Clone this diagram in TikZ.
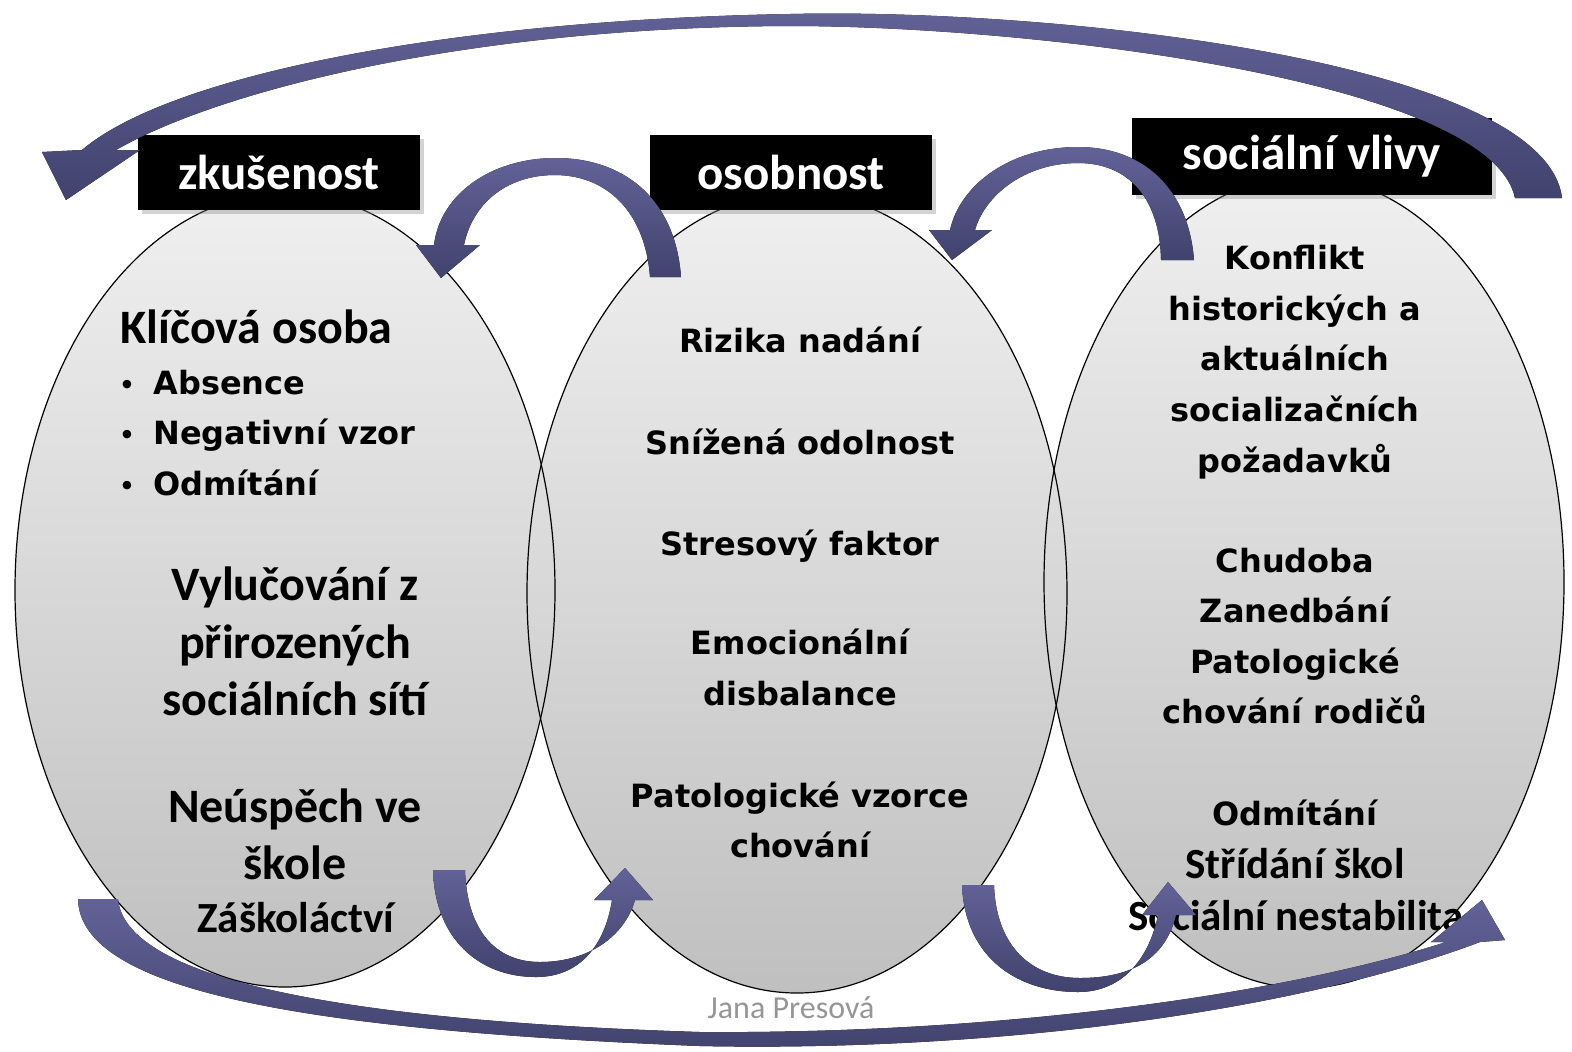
\documentclass[tikz,border=0pt]{standalone}
\usepackage{fontspec}
\usetikzlibrary{shapes.geometric,shadows}
\newfontfamily\tahfont{DejaVu Sans}
\newfontfamily\calfont{Carlito}
\definecolor{arrowtop}{RGB}{98,98,152}
\definecolor{arrowbot}{RGB}{66,66,110}
\definecolor{signgray}{RGB}{150,150,150}
\tikzset{
  blob/.style={ellipse, top color=gray!12, bottom color=gray!50, inner sep=0pt},
  rim/.style={ellipse, draw=black, line width=0.6pt, inner sep=0pt},
  tag/.style={fill=black, text=white, inner sep=0pt,
    font=\calfont\bfseries\fontsize{24.5}{28}\selectfont,
    drop shadow={opacity=0.35, shadow xshift=2pt, shadow yshift=-2pt}},
  body/.style={font=\tahfont\bfseries\fontsize{16}{25}\selectfont, anchor=base, inner sep=0pt},
  big/.style={font=\calfont\bfseries\fontsize{24}{28}\selectfont, anchor=base, inner sep=0pt},
  small/.style={font=\calfont\bfseries\fontsize{21.5}{26}\selectfont, anchor=base, inner sep=0pt},
  curlarrow/.style={top color=arrowtop, bottom color=arrowbot},
}
\begin{document}
\begin{tikzpicture}[x=0.5pt, y=-0.5pt]
  \useasboundingbox (0,0) rectangle (1572,1051);
  % ellipses
  \node[blob, minimum width=270pt, minimum height=397pt] (zk) at (285,590) {};
  \node[blob, minimum width=270pt, minimum height=400pt] (os) at (797,593) {};
  \node[blob, minimum width=260pt, minimum height=406pt] (sv) at (1304,582) {};
  \node[rim, minimum width=270pt, minimum height=397pt] (zkr) at (zk) {};
  \node[rim, minimum width=270pt, minimum height=400pt] (osr) at (os) {};
  \node[rim, minimum width=260pt, minimum height=406pt] (svr) at (sv) {};

  % left ellipse
  \node[big, anchor=base west] (klic) at (120,343) {Klíčová osoba};
  \foreach \t/\y [count=\i] in {Absence/394, Negativní vzor/444, Odmítání/495} {
    \node[body, font=\tahfont\bfseries\fontsize{12}{14}\selectfont] (dot\i) at (127,\y-1) {•};
    \node[body, anchor=base west] (osb\i) at (153,\y) {\t};
  }
  \foreach \t/\y [count=\i] in {Vylučování z/600, přirozených/658, sociálních sítí/715,
      Neúspěch ve/822, škole/879} {
    \node[big] (zkt\i) at (295,\y) {\t};
  }
  \node[small] (zask) at (296,932) {Záškoláctví};

  % middle ellipse
  \foreach \t/\y [count=\i] in {Rizika nadání/352, Snížená odolnost/454, Stresový faktor/555,
      Emocionální/654, disbalance/705, Patologické vzorce/807, chování/857} {
    \node[body] (ost\i) at (800,\y) {\t};
  }

  % right ellipse
  \foreach \t/\y [count=\i] in {Konflikt/269, historických a/320, aktuálních/370,
      socializačních/421, požadavků/472, Chudoba/572, Zanedbání/622, Patologické/673,
      chování rodičů/723, Odmítání/825} {
    \node[body] (svt\i) at (1295,\y) {\t};
  }
  \node[small] (strid) at (1295,878) {Střídání škol};
  \node[small] (nest) at (1296,930) {Sociální nestabilita};

  % labels
  \node[tag, minimum width=141pt, minimum height=37.5pt] (zkl) at (279,172) {zkušenost};
  \node[tag, minimum width=141pt, minimum height=37.5pt] (osl) at (791,172) {osobnost};
  \node[tag, minimum width=180pt, minimum height=38.5pt] (svl) at (1312,156) {sociální vlivy};

  % arrows
  \fill[curlarrow] (1562,198) .. controls (1545,60) and (1050,8) .. (790,14)
    .. controls (450,20) and (170,75) .. (82,150) -- (42,152) -- (66,200) -- (140,150)
    -- (116,150) .. controls (220,90) and (470,27) .. (790,26)
    .. controls (1030,26) and (1490,80) .. (1515,198) -- cycle;
  \fill[curlarrow] (681,277) .. controls (675,195) and (620,158) .. (556,158)
    .. controls (490,158) and (440,195) .. (434,245) -- (416,245) -- (441,278)
    -- (480,245) -- (464,245) .. controls (472,205) and (505,175) .. (555,175)
    .. controls (605,175) and (645,210) .. (650,277) -- cycle;
  \fill[curlarrow] (1194,260) .. controls (1188,185) and (1140,147) .. (1078,147)
    .. controls (1010,147) and (960,185) .. (950,230) -- (929,230) -- (952,260)
    -- (992,230) -- (975,230) .. controls (985,195) and (1025,163) .. (1078,163)
    .. controls (1130,163) and (1160,200) .. (1161,260) -- cycle;
  \fill[curlarrow] (433,870) .. controls (435,940) and (480,977) .. (536,977)
    .. controls (580,977) and (605,945) .. (612,900) -- (594,900) -- (625,868)
    -- (653,900) -- (635,900) .. controls (625,935) and (590,962) .. (540,962)
    .. controls (495,962) and (467,930) .. (465,870) -- cycle;
  \fill[curlarrow] (962,885) .. controls (965,960) and (1020,992) .. (1078,992)
    .. controls (1125,992) and (1150,955) .. (1158,915) -- (1142,915) -- (1168,882)
    -- (1196,915) -- (1176,915) .. controls (1165,960) and (1130,978) .. (1080,978)
    .. controls (1030,978) and (996,945) .. (994,885) -- cycle;
  \fill[curlarrow] (78,899) .. controls (80,990) and (300,1030) .. (700,1046)
    .. controls (1000,1052) and (1300,1010) .. (1480,942) -- (1505,940) -- (1482,900)
    -- (1431,942) -- (1446,942) .. controls (1280,995) and (1000,1034) .. (700,1032)
    .. controls (320,1020) and (125,975) .. (118,899) -- cycle;

  \node[font=\calfont\fontsize{16}{19}\selectfont, text=signgray, anchor=base] (jana)
    at (791,1018) {Jana Presová};
\end{tikzpicture}
\end{document}
